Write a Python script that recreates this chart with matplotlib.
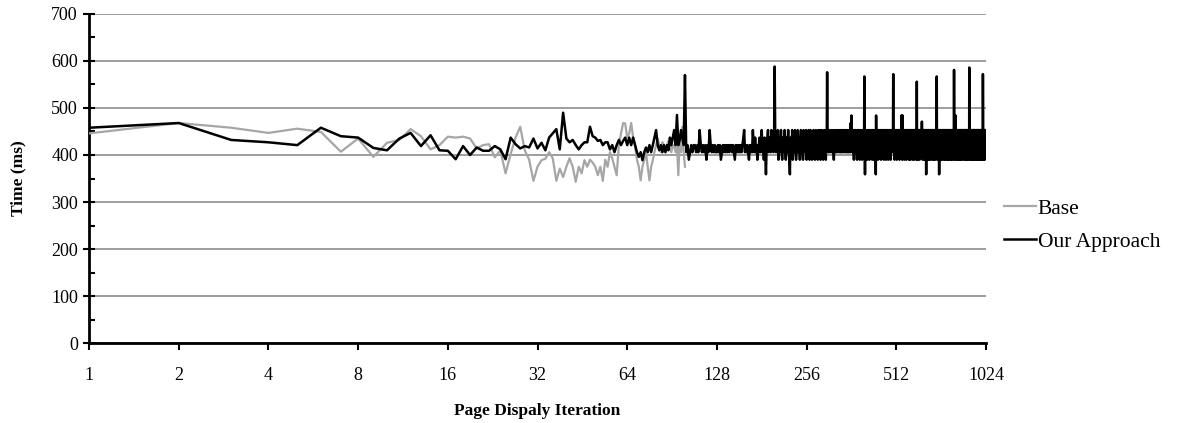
import matplotlib
matplotlib.use("Agg")
import matplotlib.pyplot as plt
import matplotlib.ticker as ticker
import numpy as np

# Page display time (ms) per iteration
base_ms = [
    446, 468, 458, 447, 456, 449, 407, 435, 396, 426,
    432, 455, 440, 412, 421, 439, 437, 439, 435, 414,
    421, 423, 395, 410, 361, 402, 437, 460, 410, 390,
    345, 375, 389, 392, 406, 393, 345, 371, 353, 375,
    393, 375, 343, 375, 361, 389, 375, 390, 384, 375,
    357, 375, 345, 390, 375, 406, 393, 375, 357, 421,
    446, 468, 467, 437, 446, 468, 437, 418, 390, 375,
    346, 375, 389, 406, 375, 346, 375, 389, 406, 421,
    435, 421, 406, 427, 421, 406, 421, 430, 421, 406,
    421, 418, 406, 421, 357, 437, 406, 460, 406, 375,
]

ours_ms = [
    458, 468, 432, 427, 421, 458, 440, 437, 415, 410,
    435, 447, 419, 442, 410, 409, 391, 419, 400, 416,
    409, 409, 419, 412, 391, 437, 423, 414, 419, 416,
    435, 414, 426, 410, 437, 446, 455, 412, 490, 435,
    427, 432, 421, 412, 421, 427, 427, 460, 440, 437,
    430, 432, 421, 427, 427, 412, 421, 406, 421, 432,
    421, 430, 437, 421, 437, 421, 437, 421, 406, 396,
    406, 389, 406, 416, 406, 421, 406, 421, 437, 453,
    421, 410, 421, 406, 421, 406, 421, 410, 437, 421,
    437, 453, 421, 485, 421, 432, 453, 437, 421, 570,
    # 101-200
    406, 421, 390, 406, 421, 406, 421, 421, 406, 421, 406, 453, 421, 406, 421, 406, 421, 390, 421, 406,
    453, 421, 406, 421, 406, 421, 406, 406, 421, 406, 421, 390, 406, 421, 406, 421, 406, 421, 406, 421,
    406, 421, 421, 406, 421, 406, 390, 421, 406, 421, 406, 421, 406, 421, 406, 421, 437, 453, 406, 421,
    406, 421, 406, 390, 421, 406, 421, 406, 453, 421, 406, 437, 406, 421, 390, 406, 421, 437, 406, 421,
    453, 406, 421, 390, 437, 406, 359, 421, 437, 453, 406, 437, 421, 406, 453, 421, 437, 406, 421, 588,
    # 201-300
    421, 406, 437, 421, 453, 390, 437, 406, 421, 453, 406, 390, 437, 421, 406, 453, 421, 390, 437, 406,
    421, 453, 406, 390, 359, 437, 421, 406, 453, 390, 437, 421, 406, 453, 421, 390, 437, 406, 453, 421,
    406, 437, 390, 421, 453, 406, 437, 421, 390, 453, 406, 421, 437, 406, 453, 390, 421, 437, 406, 453,
    421, 390, 437, 453, 406, 421, 390, 437, 406, 453, 421, 406, 390, 437, 453, 406, 421, 437, 390, 453,
    406, 421, 437, 453, 390, 406, 421, 453, 437, 406, 390, 421, 453, 406, 437, 421, 390, 453, 406, 576,
    # 301-400
    421, 437, 406, 453, 421, 406, 437, 421, 453, 406, 421, 437, 406, 453, 421, 390, 437, 421, 453, 406,
    437, 421, 406, 453, 421, 437, 406, 421, 453, 437, 406, 421, 453, 406, 437, 421, 406, 453, 421, 437,
    406, 453, 421, 437, 406, 421, 453, 437, 406, 421, 453, 406, 437, 421, 406, 453, 421, 437, 406, 468,
    453, 484, 421, 437, 406, 453, 421, 437, 390, 453, 406, 437, 421, 453, 406, 437, 421, 390, 453, 406,
    437, 421, 453, 406, 437, 390, 421, 453, 406, 437, 421, 453, 390, 437, 406, 453, 421, 437, 406, 567,
    # 401-500
    421, 359, 437, 453, 406, 421, 437, 453, 390, 421, 437, 406, 453, 421, 437, 390, 453, 406, 421, 437,
    453, 406, 437, 421, 390, 453, 437, 406, 421, 453, 390, 437, 421, 406, 453, 437, 359, 484, 421, 453,
    406, 437, 421, 453, 390, 437, 406, 453, 421, 437, 406, 453, 421, 437, 390, 453, 406, 437, 421, 453,
    406, 437, 453, 421, 390, 437, 406, 453, 421, 437, 406, 453, 390, 421, 437, 453, 406, 421, 437, 453,
    390, 437, 406, 453, 421, 437, 406, 453, 421, 390, 437, 406, 453, 421, 437, 406, 453, 421, 437, 572,
    # 501-600
    406, 453, 421, 437, 390, 453, 406, 437, 421, 453, 406, 437, 421, 390, 453, 437, 406, 421, 453, 437,
    406, 453, 421, 437, 390, 453, 406, 437, 421, 453, 406, 437, 484, 421, 453, 390, 484, 437, 406, 453,
    421, 437, 406, 453, 390, 437, 421, 453, 406, 437, 421, 453, 406, 390, 437, 453, 421, 406, 437, 453,
    421, 437, 406, 453, 390, 437, 421, 453, 406, 437, 390, 453, 421, 437, 406, 453, 421, 437, 406, 453,
    390, 437, 421, 453, 406, 437, 421, 453, 390, 437, 406, 453, 421, 437, 406, 453, 421, 437, 390, 556,
    # 601-700
    406, 453, 421, 437, 390, 453, 406, 437, 421, 453, 406, 437, 390, 453, 421, 437, 406, 453, 421, 437,
    406, 453, 421, 471, 437, 406, 453, 390, 437, 421, 453, 406, 437, 421, 453, 390, 437, 406, 453, 421,
    437, 406, 453, 421, 359, 437, 406, 453, 421, 437, 390, 453, 406, 437, 421, 453, 406, 437, 390, 453,
    421, 437, 406, 453, 421, 437, 390, 453, 406, 437, 421, 453, 406, 437, 421, 453, 390, 437, 406, 453,
    421, 437, 406, 453, 390, 437, 421, 453, 406, 437, 421, 453, 406, 390, 437, 453, 421, 437, 406, 567,
    # 701-800
    406, 453, 421, 437, 390, 453, 406, 437, 421, 453, 406, 437, 359, 453, 421, 437, 406, 453, 421, 437,
    406, 453, 390, 437, 421, 453, 406, 437, 421, 453, 390, 437, 406, 453, 421, 437, 406, 453, 421, 437,
    390, 453, 406, 437, 421, 453, 406, 437, 390, 453, 421, 437, 406, 453, 421, 437, 406, 453, 390, 437,
    421, 453, 406, 437, 421, 453, 390, 437, 406, 453, 421, 437, 406, 453, 421, 437, 390, 453, 406, 437,
    421, 453, 406, 437, 390, 453, 421, 437, 406, 453, 421, 437, 406, 453, 390, 437, 421, 453, 406, 581,
    # 801-900
    437, 406, 453, 421, 437, 390, 453, 406, 484, 453, 421, 437, 406, 453, 390, 437, 421, 453, 406, 437,
    421, 453, 406, 437, 390, 453, 421, 437, 406, 453, 421, 437, 406, 453, 390, 437, 421, 453, 406, 437,
    421, 453, 390, 437, 406, 453, 421, 437, 406, 453, 421, 437, 390, 453, 406, 437, 421, 453, 406, 437,
    421, 453, 406, 437, 390, 453, 421, 437, 406, 453, 421, 437, 406, 453, 390, 437, 421, 453, 406, 437,
    421, 453, 406, 437, 390, 453, 421, 437, 406, 453, 421, 437, 406, 453, 390, 437, 421, 453, 406, 586,
    # 901-1000
    437, 406, 453, 421, 437, 390, 453, 406, 437, 421, 453, 406, 437, 390, 453, 421, 437, 406, 453, 421,
    406, 437, 453, 390, 421, 453, 406, 437, 421, 453, 390, 437, 406, 453, 421, 437, 406, 453, 421, 437,
    390, 453, 406, 437, 421, 453, 406, 437, 390, 453, 421, 437, 406, 453, 421, 437, 390, 453, 406, 437,
    421, 453, 406, 437, 390, 453, 421, 437, 406, 453, 421, 437, 406, 453, 390, 437, 421, 453, 406, 437,
    421, 453, 406, 437, 390, 453, 421, 437, 406, 453, 421, 437, 406, 453, 390, 437, 421, 453, 406, 572,
    # 1001-1024
    437, 406, 453, 421, 437, 390, 453, 406, 437, 421, 453, 406, 437, 390, 453, 421, 437, 406, 453, 421,
    406, 437, 453, 421,
]

x_ticks = [1, 2, 4, 8, 16, 32, 64, 128, 256, 512, 1024]
y_ticks = [0, 100, 200, 300, 400, 500, 600, 700]

serif = ["Liberation Serif", "DejaVu Serif"]
plt.rcParams["font.family"] = serif

fig = plt.figure(figsize=(11.78, 4.23), dpi=100)
ax = fig.add_axes([0.0756, 0.189, 0.7614, 0.778])

base_x = np.arange(1, len(base_ms) + 1)
ours_x = np.arange(1, len(ours_ms) + 1)

ax.plot(base_x, base_ms, color="#a6a6a6", linewidth=1.6, label="Base", zorder=3)
ax.plot(ours_x, ours_ms, color="black", linewidth=1.8, label="Our Approach", zorder=4)

ax.set_xscale("log", base=2)
ax.set_xlim(1, 1024)
ax.set_ylim(0, 700)
ax.set_xticks(x_ticks)
ax.set_xticklabels([str(t) for t in x_ticks])
ax.xaxis.set_minor_locator(ticker.NullLocator())
ax.set_yticks(y_ticks)
ax.yaxis.set_minor_locator(ticker.MultipleLocator(50))

ax.grid(axis="y", which="major", color="#8c8c8c", linewidth=1.2, zorder=1)
ax.set_axisbelow(True)
ax.spines[["top", "right"]].set_visible(False)
ax.spines["left"].set_linewidth(2.0)
ax.spines["bottom"].set_linewidth(2.0)

ax.tick_params(axis="y", which="major", direction="inout", length=8, width=1.5,
               labelsize=13, pad=4)
ax.tick_params(axis="y", which="minor", direction="in", length=4, width=1.5)
ax.tick_params(axis="x", which="major", direction="out", length=5, width=1.5,
               labelsize=13, pad=12)

ax.set_xlabel("Page Dispaly Iteration", fontsize=12.5, fontweight="bold", labelpad=14)
ax.set_ylabel("Time (ms)", fontsize=12.5, fontweight="bold", labelpad=18)

fig.legend(loc="center left", bbox_to_anchor=(0.836, 0.467), frameon=False,
           fontsize=15.5, handlelength=1.5, handletextpad=0.05, labelspacing=0.6)

fig.savefig("out.png", dpi=100, facecolor="white")
